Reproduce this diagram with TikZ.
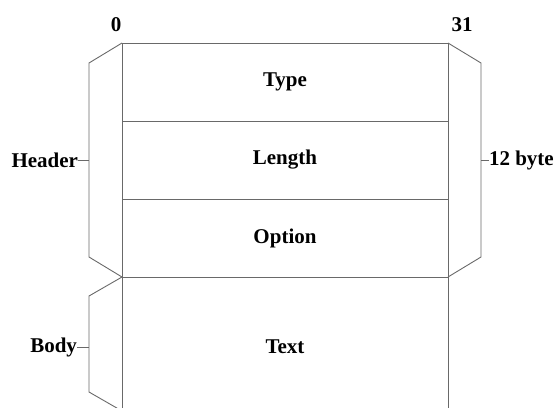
\documentclass[tikz,border=0pt]{standalone}
\usepackage{fontspec}
\setmainfont{Liberation Serif}
\usetikzlibrary{positioning}
\definecolor{linegray}{RGB}{105,105,105}
\tikzstyle{every node}=[inner sep=0pt,outer sep=0pt,font=\bfseries\fontsize{21}{24}\selectfont]
\tikzstyle{field}=[draw=linegray,minimum width=326pt,minimum height=78pt]

\begin{document}
\begin{tikzpicture}[x=1pt,y=-1pt,line width=0.9pt,draw=linegray]
	\useasboundingbox (0,0) rectangle (556,407);
	\node (type) [field] at (285,82) {Type};
	\node (length) [field,below=0pt of type] {Length};
	\node (option) [field,below=0pt of length] {Option};
	\node (text) [minimum width=326pt,minimum height=140pt,below=0pt of option] {Text};
	\draw (text.north west) -- (text.south west)
	(text.north east) -- (text.south east);
	% bit numbers
	\node (b0) at (116,25) {0};
	\node (b31) at (462,25) {31};
	% header brace, left and right
	\draw (type.north west) -- ++(-33,20) coordinate (hl1)
	-- ++(0,194) coordinate (hl2) -- (option.south west);
	\draw (type.north east) -- ++(33,20) coordinate (hr1)
	-- ++(0,194) coordinate (hr2) -- (option.south east);
	% body brace
	\draw (text.north west) -- ++(-33,19) coordinate (bl1)
	-- ++(0,96) coordinate (bl2) -- ++(33,19);
	\node (header) [anchor=east] at (78,160) {Header};
	\node (size) [anchor=west] at (489,160) {12 byte};
	\node (body) [anchor=east] at (77,347) {Body};
	\draw (header.east) -- (header.east -| hl1);
	\draw (size.west) -- (size.west -| hr1);
	\draw (body.east) -- (body.east -| bl1);
\end{tikzpicture}
\end{document}
